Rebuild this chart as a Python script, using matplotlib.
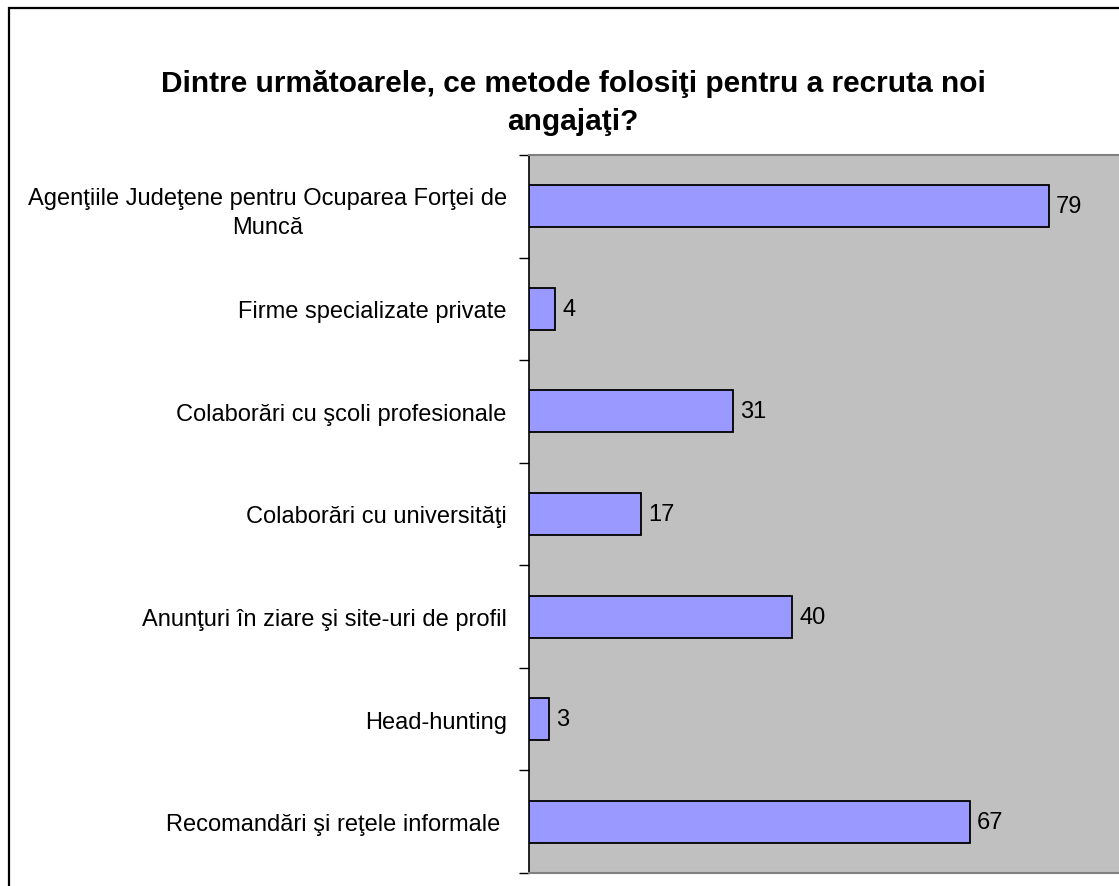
import matplotlib
matplotlib.use('Agg')
import matplotlib.pyplot as plt
from matplotlib.patches import Rectangle

plt.rcParams['font.family'] = ['Liberation Sans', 'DejaVu Sans']

TITLE = 'Dintre următoarele, ce metode folosiţi pentru a recruta noi\nangajaţi?'

categories = [
    'Agenţiile Judeţene pentru Ocuparea Forţei de\nMuncă',
    'Firme specializate private',
    'Colaborări cu şcoli profesionale',
    'Colaborări cu universităţi',
    'Anunţuri în ziare şi site-uri de profil',
    'Head-hunting',
    'Recomandări şi reţele informale ',
]
values = [79, 4, 31, 17, 40, 3, 67]

W, H = 1119, 887
fig = plt.figure(figsize=(W / 100, H / 100), dpi=100)
fig.patch.set_facecolor('white')

# outer chart frame (right/bottom edges are cropped in the original)
fig.add_artist(Rectangle((9 / W, -0.1), 1.2, 1 - 9 / H + 0.1,
                         transform=fig.transFigure, fill=False,
                         edgecolor='black', linewidth=1.6, zorder=0))

left, right = 529 / W, 1121 / W
bottom, top = 1 - 874 / H, 1 - 156 / H
ax = fig.add_axes([left, bottom, right - left, top - bottom])
ax.set_facecolor('#C0C0C0')

pos = list(range(len(values)))
ax.barh(pos, values, height=0.41, color='#9999FF', edgecolor='black',
        linewidth=1.3, zorder=3)
for p, v in zip(pos, values):
    ax.text(v + 1.1, p, str(v), va='center', ha='left', fontsize=17,
            color='black', zorder=4)

ax.set_xlim(0, 90)
ax.set_ylim(len(values) - 0.5, -0.5)
ax.set_xticks([])

ax.set_yticks([p + 0.5 for p in range(-1, len(values))])
ax.set_yticklabels([])
ax.set_yticks(pos, minor=True)
ax.set_yticklabels(categories, minor=True, fontsize=17,
                   multialignment='center', linespacing=1.4)
ax.tick_params(axis='y', which='major', length=7, width=1, direction='out')
ax.tick_params(axis='y', which='minor', length=0, pad=16)

for side in ('top', 'right', 'bottom'):
    ax.spines[side].set_color('#808080')
    ax.spines[side].set_linewidth(1.5)
ax.spines['left'].set_color('black')
ax.spines['left'].set_linewidth(1.2)

fig.text(573 / W, 1 - 103 / H, TITLE, ha='center', va='center',
         fontsize=21.5, fontweight='bold', linespacing=1.5)

fig.savefig('out.png', dpi=100)
